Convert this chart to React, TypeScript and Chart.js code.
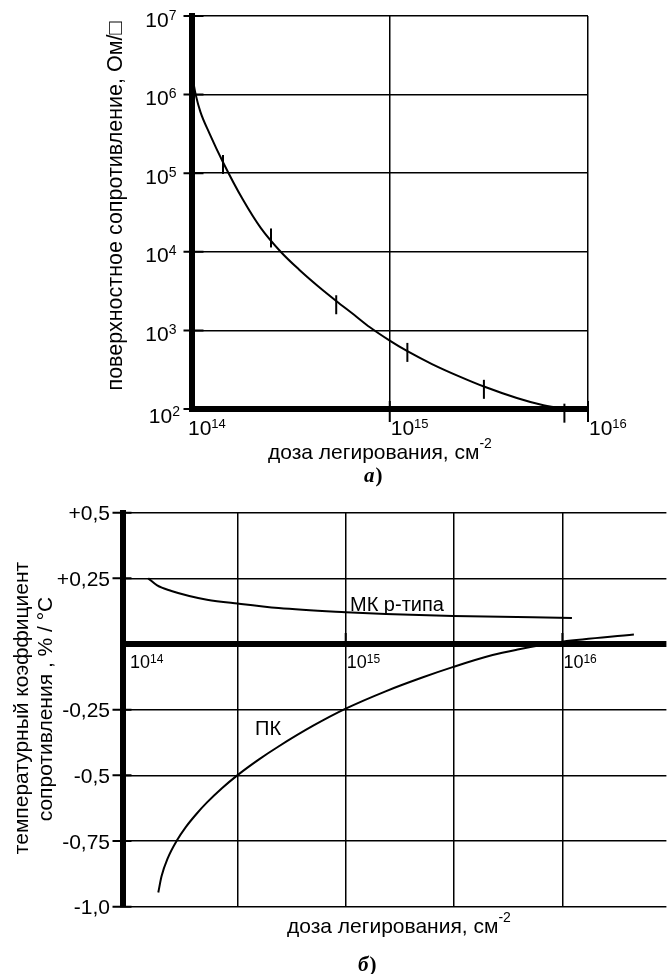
import React, { useEffect, useRef } from "react";
import { Chart, registerables } from "chart.js";

Chart.register(...registerables);

const FONT = "'Liberation Sans', Arial, Helvetica, 'DejaVu Sans', sans-serif";
const SERIF = "'Liberation Serif', 'Times New Roman', serif";

// ---------- Chart а: surface resistance vs implantation dose ----------
const doseA = [1.021e14, 1.05e14, 1.109e14, 1.23e14, 1.442e14, 1.816e14, 2.239e14, 2.825e14, 3.483e14, 4.365e14, 5.37e14, 6.607e14, 7.943e14, 1e15, 1.227e15, 1.633e15, 2.239e15, 2.985e15, 4.375e15, 5.754e15, 7.603e15];
const resistanceA = [1.445e6, 1.0e6, 6.03e5, 3.24e5, 1.38e5, 4.62e4, 2.0e4, 9.95e3, 5.96e3, 3.62e3, 2.37e3, 1.58e3, 1.096e3, 741, 543, 373, 260, 193, 138, 114, 100];
const markDoseA = [1.442e14, 2.518e14, 5.37e14, 1.227e15, 2.985e15, 7.603e15];
const markResistanceA = [1.29e5, 1.5e4, 2.12e3, 525, 178, 88.5];
const yTicksA = [1e2, 1e3, 1e4, 1e5, 1e6, 1e7];
const yTickExpA = ["2", "3", "4", "5", "6", "7"];
const xTicksA = [1e14, 1e15, 1e16];
const xTickExpA = ["14", "15", "16"];

// ---------- Chart б: temperature coefficient of resistance vs dose ----------
const doseMK = [1.227e14, 1.349e14, 1.57e14, 1.897e14, 2.29e14, 3.17e14, 4.9e14, 1e15, 1.528e15, 3.14e15, 1.107e16];
const tcrMK = [0.25, 0.223, 0.202, 0.183, 0.169, 0.154, 0.137, 0.121, 0.114, 0.107, 0.099];
const dosePK = [1.365e14, 1.413e14, 1.51e14, 1.663e14, 1.828e14, 2.042e14, 2.291e14, 2.692e14, 3.17e14, 3.981e14, 4.898e14, 7.079e14, 1e15, 1.528e15, 2.239e15, 3.141e15, 4.764e15, 6.31e15, 8.511e15, 1e16, 2.138e16];
const tcrPK = [-0.946, -0.884, -0.815, -0.748, -0.697, -0.648, -0.603, -0.548, -0.499, -0.439, -0.39, -0.311, -0.246, -0.18, -0.1285, -0.087, -0.042, -0.02, 0, 0.009, 0.036];
const yTicksB = [0.5, 0.25, 0, -0.25, -0.5, -0.75, -1.0];
const yTickLabelsB = ["+0,5", "+0,25", "", "-0,25", "-0,5", "-0,75", "-1,0"];
const xGridB = [Math.pow(10, 14.5), 1e15, Math.pow(10, 15.5), 1e16];
const xLabelB = [1e14, 1e15, 1e16];
const xLabelExpB = ["14", "15", "16"];

const X_TITLE = "доза легирования, см";
const Y_TITLE_A = "поверхностное сопротивление, Ом/\u25A1";
const Y_TITLE_B1 = "температурный коэффициент";
const Y_TITLE_B2 = "сопротивления , % / °C";

function drawPow(ctx: CanvasRenderingContext2D, base: string, exp: string, x: number, baseline: number, size: number, expSize: number, raise: number, align: "left" | "right") {
  ctx.font = `${size}px ${FONT}`;
  const wb = ctx.measureText(base).width;
  ctx.font = `${expSize}px ${FONT}`;
  const we = ctx.measureText(exp).width;
  const x0 = align === "right" ? x - wb - we : x;
  ctx.textAlign = "left";
  ctx.textBaseline = "alphabetic";
  ctx.font = `${size}px ${FONT}`;
  ctx.fillText(base, x0, baseline);
  ctx.font = `${expSize}px ${FONT}`;
  ctx.fillText(exp, x0 + wb, baseline - raise);
}

function drawRotated(ctx: CanvasRenderingContext2D, text: string, bx: number, cy: number, size: number) {
  ctx.save();
  ctx.translate(bx, cy);
  ctx.rotate(-Math.PI / 2);
  ctx.font = `${size}px ${FONT}`;
  ctx.textAlign = "center";
  ctx.textBaseline = "alphabetic";
  ctx.fillText(text, 0, 0);
  ctx.restore();
}

function drawFigLabel(ctx: CanvasRenderingContext2D, letter: string, x: number, baseline: number) {
  ctx.textAlign = "left";
  ctx.textBaseline = "alphabetic";
  ctx.font = `italic bold 21px ${SERIF}`;
  ctx.fillText(letter, x, baseline);
  const w = ctx.measureText(letter).width;
  ctx.font = `bold 21px ${SERIF}`;
  ctx.fillText(")", x + w + 1, baseline);
}

function drawTitleWithSup(ctx: CanvasRenderingContext2D, x: number, baseline: number) {
  ctx.font = `21px ${FONT}`;
  ctx.textAlign = "left";
  ctx.textBaseline = "alphabetic";
  ctx.fillText(X_TITLE, x, baseline);
  const tw = ctx.measureText(X_TITLE).width;
  ctx.font = `14px ${FONT}`;
  ctx.fillText("-2", x + tw, baseline - 11);
}

const annotA = {
  id: "annotA",
  afterDraw(chart: any) {
    const { ctx, chartArea: ca, scales } = chart;
    const x = scales.x;
    const y = scales.y;
    ctx.save();
    ctx.fillStyle = "#000";
    ctx.strokeStyle = "#000";
    ctx.lineWidth = 2;
    ctx.beginPath();
    yTicksA.forEach((v) => {
      const py = y.getPixelForValue(v);
      ctx.moveTo(ca.left - 8, py);
      ctx.lineTo(ca.left + 12, py);
    });
    xTicksA.slice(1).forEach((v) => {
      const px = x.getPixelForValue(v);
      ctx.moveTo(px, ca.bottom - 8);
      ctx.lineTo(px, ca.bottom + 13);
    });
    ctx.stroke();

    yTicksA.forEach((v, i) => {
      const py = y.getPixelForValue(v);
      if (i === 0) drawPow(ctx, "10", yTickExpA[i], ca.left - 11.5, py + 14, 21, 14, 7, "right");
      else drawPow(ctx, "10", yTickExpA[i], ca.left - 15, py + 10.5, 21, 14, 7, "right");
    });
    xTicksA.forEach((v, i) => {
      const px = x.getPixelForValue(v);
      drawPow(ctx, "10", xTickExpA[i], px + (i === 0 ? -3.5 : 1), ca.bottom + 26, 21, 13, 7, "left");
    });

    drawTitleWithSup(ctx, 268, 459);
    drawRotated(ctx, Y_TITLE_A, 122, 206, 21.5);
    drawFigLabel(ctx, "а", 364, 482);
    ctx.restore();
  },
};

const OFF_B = 490;

const annotB = {
  id: "annotB",
  afterDraw(chart: any) {
    const { ctx, chartArea: ca, scales } = chart;
    const x = scales.x;
    const y = scales.y;
    const zeroY = y.getPixelForValue(0);
    ctx.save();
    ctx.fillStyle = "#000";
    ctx.strokeStyle = "#000";
    ctx.lineWidth = 2;
    ctx.beginPath();
    yTicksB.forEach((v) => {
      if (v === 0) return;
      const py = y.getPixelForValue(v);
      ctx.moveTo(ca.left - 10, py);
      ctx.lineTo(ca.left + 9, py);
    });
    [1e15, 1e16].forEach((v) => {
      const px = x.getPixelForValue(v);
      ctx.moveTo(px, zeroY - 11);
      ctx.lineTo(px, zeroY);
    });
    ctx.stroke();

    ctx.font = `21px ${FONT}`;
    ctx.textAlign = "right";
    ctx.textBaseline = "alphabetic";
    yTicksB.forEach((v, i) => {
      if (!yTickLabelsB[i]) return;
      const py = y.getPixelForValue(v);
      ctx.fillText(yTickLabelsB[i], 110, py + 7.5);
    });

    xLabelB.forEach((v, i) => {
      const px = x.getPixelForValue(v);
      drawPow(ctx, "10", xLabelExpB[i], px + 1, zeroY + 24.3, 18, 12, 5.5, "left");
    });

    // curve labels
    ctx.font = `20px ${FONT}`;
    ctx.textAlign = "left";
    ctx.fillText("МК p-типа", 350, 611 - OFF_B);
    ctx.fillText("ПК", 255, 735 - OFF_B);

    drawTitleWithSup(ctx, 287, 933 - OFF_B);

    // y title (two lines)
    drawRotated(ctx, Y_TITLE_B1, 27.5, 708 - OFF_B, 21);
    drawRotated(ctx, Y_TITLE_B2, 51.5, 709 - OFF_B, 21);

    drawFigLabel(ctx, "б", 358, 971 - OFF_B);
    ctx.restore();
  },
};

function tickSetter(values: number[]) {
  return (scale: any) => {
    scale.ticks = values.map((v) => ({ value: v }));
  };
}

function curve(xs: number[], ys: number[]): any {
  return {
    data: xs.map((d, i) => ({ x: d, y: ys[i] })),
    showLine: true,
    borderColor: "#000",
    borderWidth: 2,
    pointRadius: 0,
    tension: 0.4,
    cubicInterpolationMode: "monotone",
    fill: false,
  };
}

function configA(): any {
  return {
    type: "scatter",
    data: {
      datasets: [
        curve(doseA, resistanceA),
        {
          data: markDoseA.map((d, i) => ({ x: d, y: markResistanceA[i] })),
          showLine: false,
          pointStyle: "line",
          rotation: 90,
          pointRadius: 9.5,
          borderColor: "#000",
          backgroundColor: "#000",
          borderWidth: 2,
          clip: false,
        },
      ],
    },
    options: {
      animation: false,
      responsive: false,
      devicePixelRatio: 1,
      events: [],
      layout: { padding: { left: 191.5, top: 16, right: 667 - 588, bottom: 81 }, autoPadding: false },
      plugins: { legend: { display: false }, tooltip: { enabled: false } },
      scales: {
        x: {
          type: "logarithmic",
          min: 1e14,
          max: 1e16,
          afterBuildTicks: tickSetter(xTicksA),
          ticks: { display: false },
          grid: { color: "#000", lineWidth: 1.5, drawTicks: false },
          border: { display: true, color: "#000", width: 6 },
        },
        y: {
          type: "logarithmic",
          min: 1e2,
          max: 1e7,
          afterBuildTicks: tickSetter(yTicksA),
          ticks: { display: false },
          grid: { color: "#000", lineWidth: 1.5, drawTicks: false },
          border: { display: true, color: "#000", width: 6 },
        },
      },
    },
    plugins: [annotA],
  };
}

function configB(): any {
  return {
    type: "scatter",
    data: {
      datasets: [curve(doseMK, tcrMK), curve(dosePK, tcrPK)],
    },
    options: {
      animation: false,
      responsive: false,
      devicePixelRatio: 1,
      events: [],
      layout: { padding: { left: 122.5, top: 512.7 - OFF_B, right: 0.6, bottom: 484 - (906.7 - OFF_B) }, autoPadding: false },
      plugins: { legend: { display: false }, tooltip: { enabled: false } },
      scales: {
        x: {
          type: "logarithmic",
          min: Math.pow(10, 13.97),
          max: Math.pow(10, 16.48),
          afterBuildTicks: tickSetter(xGridB),
          ticks: { display: false },
          grid: { color: "#000", lineWidth: 1.5, drawTicks: false },
          border: { display: false },
        },
        y: {
          type: "linear",
          min: -1,
          max: 0.5,
          afterBuildTicks: tickSetter(yTicksB),
          ticks: { display: false },
          grid: {
            color: "#000",
            lineWidth: (c: any) => (c.tick && c.tick.value === 0 ? 6 : 1.5),
            drawTicks: false,
          },
          border: { display: true, color: "#000", width: 6 },
        },
      },
    },
    plugins: [annotB],
  };
}

export default function App() {
  const refA = useRef<HTMLCanvasElement>(null);
  const refB = useRef<HTMLCanvasElement>(null);
  useEffect(() => {
    const a = new Chart(refA.current as HTMLCanvasElement, configA());
    const b = new Chart(refB.current as HTMLCanvasElement, configB());
    return () => {
      a.destroy();
      b.destroy();
    };
  }, []);
  return (
    <div style={{ position: "absolute", left: 0, top: 0, width: 667, height: 974, background: "#fff", overflow: "hidden" }}>
      <canvas ref={refA} width={667} height={490} style={{ position: "absolute", left: 0, top: 0, width: 667, height: 490 }} />
      <canvas ref={refB} width={667} height={484} style={{ position: "absolute", left: 0, top: OFF_B, width: 667, height: 484 }} />
    </div>
  );
}
